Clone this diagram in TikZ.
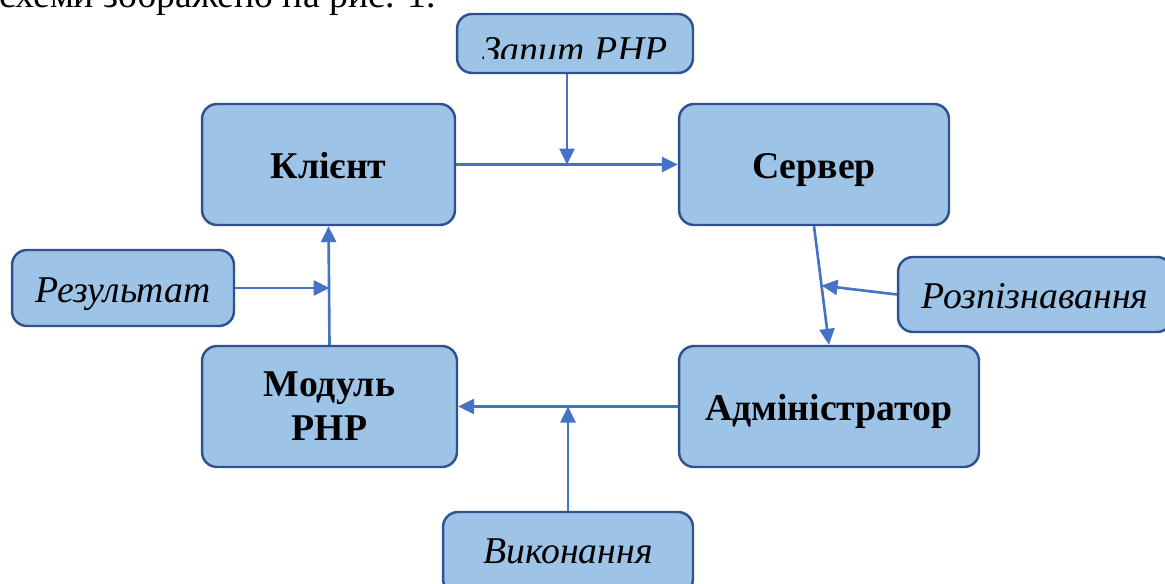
\documentclass[tikz,border=0pt]{standalone}
\usepackage{fontspec}
\setmainfont{Liberation Serif}
\usetikzlibrary{arrows.meta,calc}

\definecolor{boxfill}{HTML}{9DC3E6}
\definecolor{boxline}{HTML}{2F528F}
\definecolor{linkblue}{HTML}{4472C4}

\begin{document}
\begin{tikzpicture}[
   x=0.02cm,y=-0.02cm,
   every node/.style={font=\fontsize{21.5}{40}\selectfont},
   blk/.style={draw=boxline,line width=1.4pt,fill=boxfill,rounded corners=0.3cm,
               align=center,inner sep=0pt,text height=16.3pt,text depth=0pt,
               font=\fontsize{21.5}{25}\selectfont\bfseries},
   ibox/.style={blk,font=\fontsize{21.5}{40}\selectfont\itshape},
   link/.style={linkblue,line width=1.5pt,-{Triangle[length=0.32cm,width=0.3cm]}}
]
\useasboundingbox (0,0) rectangle (1165,584);
\clip (0,0) rectangle (1165,584);

% text of the page above the figure (cut off)
\node[anchor=base east,inner sep=0pt] (para) at (436,8) {схеми зображено на рис. 1.};

% =========== main blocks ============
\node[blk,minimum width=5.06cm,minimum height=2.42cm] (klient) at (328.5,164.5) {Клієнт};
\node[blk,minimum width=5.4cm,minimum height=2.42cm]  (server) at (814,164.5) {Сервер};
\node[blk,minimum width=5.1cm,minimum height=2.42cm,text height=,text depth=]
     (modul) at (329.5,406.5) {Модуль\\PHP};
\node[blk,minimum width=6.0cm,minimum height=2.42cm]  (admin)  at (829,406.5) {Адміністратор};

% =========== side labels ============
\node[ibox,minimum width=4.72cm,minimum height=1.18cm] (zapyt)  at (575,43.5) {};
\begin{scope}
  % the label text is cut off above its baseline
  \clip (457,14) rectangle (693,59);
  \node[anchor=base,inner sep=0pt,font=\fontsize{21.5}{40}\selectfont\itshape] (zapytt) at (575,63) {Запит PHP};
\end{scope}
\node[ibox,minimum width=4.44cm,minimum height=1.52cm] (rezult) at (123,288) {Результат};
\node[ibox,minimum width=5.48cm,minimum height=1.5cm]  (rozpiz) at (1035,294.5) {Розпізнавання};
\node[ibox,minimum width=5.0cm,minimum height=1.64cm]  (vykon)  at (568,553) {};
\node[anchor=base,inner sep=0pt,font=\fontsize{21.5}{40}\selectfont\itshape] (vykont) at (568,563) {Виконання};

% =========== connectors ============
\coordinate (q1) at (567,164.5);
\coordinate (q2) at ($(server.south)!0.5!(admin.north)$);

\draw[link] (klient.east) -- (server.west);
\draw[link] (zapyt.south -| q1) -- (q1);
\draw[link] (server.south) -- (admin.north);
\draw[link] (rozpiz.west) -- (q2);
\draw[link] (admin.west) -- (modul.east);
\draw[link] (vykon.north) -- (vykon.north |- admin.west);
\draw[link] (modul.north) -- (klient.south);
\draw[link] (rezult.east) -- (rezult.east -| modul.north);

\end{tikzpicture}
\end{document}
